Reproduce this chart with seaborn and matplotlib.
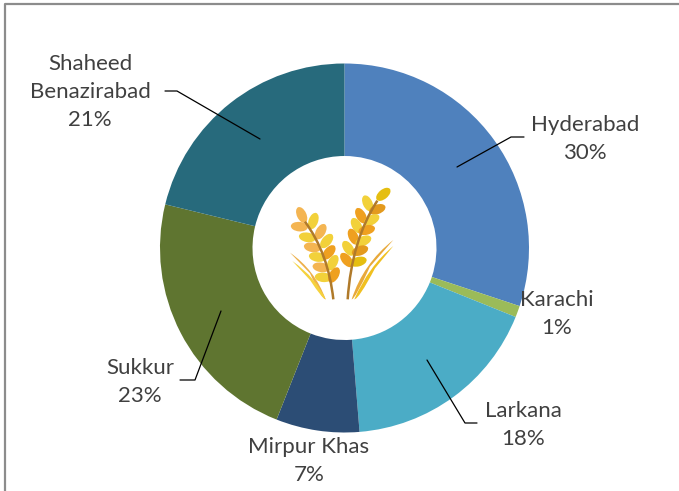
import numpy as np
import matplotlib
matplotlib.use("Agg")
import matplotlib.pyplot as plt
import seaborn as sb
from matplotlib.patches import Ellipse, PathPatch
from matplotlib.path import Path

# values (labels show them rounded)
districts = ["Hyderabad", "Karachi", "Larkana", "Mirpur Khas", "Sukkur", "Shaheed\nBenazirabad"]
shares = [30.1, 1.0, 17.6, 7.3, 22.8, 21.2]
colors = ["#4F81BD", "#9BBB59", "#4BACC6", "#2C4D75", "#5F7530", "#276A7C"]

W, H = 679, 491
CX, CY, R = 344.5, 248, 184.5

sb.set_theme(style="white")
plt.rcParams["font.family"] = ["Lato", "DejaVu Sans"]

fig = plt.figure(figsize=(W / 100, H / 100), dpi=100)
ax = fig.add_axes([0, 0, 1, 1])
ax.set_xlim(0, W)
ax.set_ylim(H, 0)
ax.axis("off")

# outer frame, only top and left are inside the crop
ax.plot([5, 5, W], [H, 3.5, 3.5], color="#8C8C8C", lw=1.6, solid_capstyle="butt")

# the y axis is flipped, so counterclock=True runs clockwise on screen
wedges, _ = ax.pie(shares, colors=sb.color_palette(colors), startangle=-90, counterclock=True,
                   radius=R, center=(CX, CY), frame=False,
                   wedgeprops=dict(width=R - 92, linewidth=0))
ax.set_xlim(0, W)
ax.set_ylim(H, 0)
ax.set_aspect("equal")

# labels: text centre, then leader line points
text_color = "#404040"
label_pos = [(585, 139), (557, 314), (523, 425), (309, 461), (140, 382), (90, 92)]
leaders = [[(457, 167), (511, 137), (524, 137)], None,
           [(427, 360), (465, 423), (477, 423)], None,
           [(221, 311), (195, 380), (180, 380)],
           [(260, 139), (177, 91), (165, 91)]]
for name, share, pos, line in zip(districts, shares, label_pos, leaders):
    ax.text(pos[0], pos[1], f"{name}\n{share:.0f}%", ha="center", va="center",
            fontsize=16, color=text_color, linespacing=1.5)
    if line:
        ax.plot([p[0] for p in line], [p[1] for p in line], color="black", lw=0.9)


# wheat icon, positions taken from a zoom of the centre (3x, origin 260,160)
def zp(x, y):
    return 260 + x / 3, 160 + y / 3


def leaf(x, y, angle, col, length=17, wide=9.5):
    px, py = zp(x, y)
    ax.add_patch(Ellipse((px, py), length, wide, angle=angle, facecolor=col, edgecolor="none", zorder=5))


def curve(pts, col, lw=None, fill=False):
    pts = [zp(*p) for p in pts]
    if fill:
        codes = [Path.MOVETO, Path.CURVE3, Path.CURVE3, Path.CURVE3, Path.CURVE3, Path.CLOSEPOLY]
        ax.add_patch(PathPatch(Path(pts + [pts[0]], codes), facecolor=col, edgecolor="none", zorder=4))
    else:
        ax.add_patch(PathPatch(Path(pts, [Path.MOVETO, Path.CURVE3, Path.CURVE3]), facecolor="none",
                               edgecolor=col, lw=lw, zorder=6))


light, gold, orange, amber = "#F4B552", "#F2D13A", "#EFA020", "#E5BE10"
left_leaves = [(125, 165, 65, light), (118, 200, 5, light), (160, 183, -70, gold), (142, 232, 10, gold),
               (182, 215, -60, light), (157, 262, 10, light), (200, 243, -50, gold), (172, 291, 10, gold),
               (207, 277, -50, orange), (183, 322, 10, light), (218, 308, -60, gold), (190, 352, 5, gold),
               (222, 345, -60, orange)]
right_leaves = [(370, 103, -40, amber), (323, 130, 65, gold), (352, 148, -20, "#E39A1E"), (303, 167, 60, orange),
                (335, 180, -30, gold), (290, 197, 60, gold), (320, 210, -15, orange), (280, 230, 65, orange),
                (310, 243, -25, gold), (265, 265, 55, gold), (300, 272, -20, "#E39A1E"), (260, 300, 50, orange),
                (295, 305, -15, amber)]
for x, y, a, c in left_leaves + right_leaves:
    leaf(x, y, a, c)

curve([(90, 278), (165, 330), (197, 418), (185, 418), (150, 340)], "#EDB04A", fill=True)
curve([(97, 303), (170, 355), (197, 418), (188, 418), (150, 360)], "#F5D23C", fill=True)
curve([(400, 240), (310, 310), (275, 418), (285, 418), (330, 320)], "#E8A93A", fill=True)
curve([(400, 258), (325, 320), (283, 418), (296, 418), (345, 325)], "#F0C020", fill=True)
curve([(135, 185), (205, 280), (220, 418)], "#B07A2A", lw=1.8)
curve([(352, 122), (275, 240), (263, 418)], "#B07A2A", lw=1.8)

fig.savefig("out.png", dpi=100)
